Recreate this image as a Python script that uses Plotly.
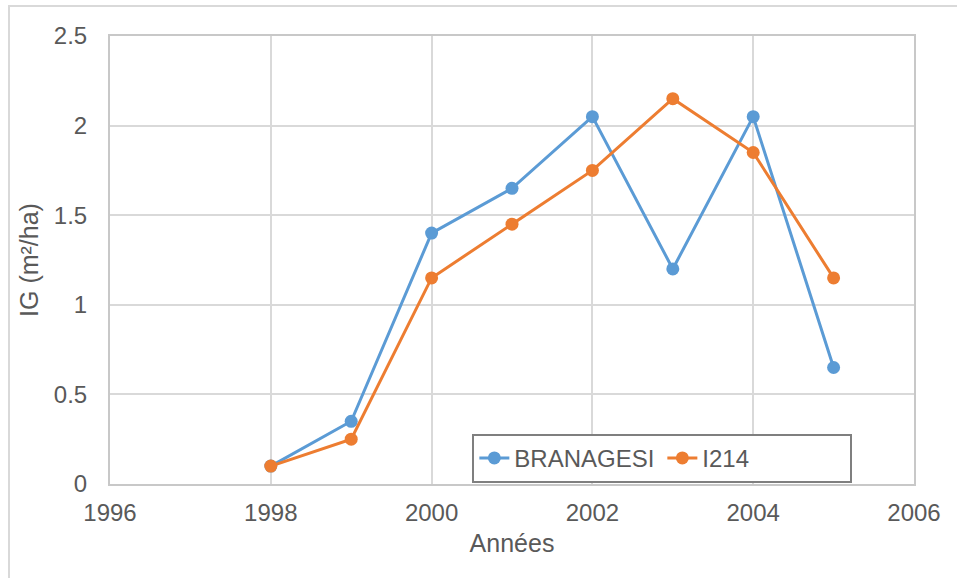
import plotly.graph_objects as go

# Growth data
annees = [1998, 1999, 2000, 2001, 2002, 2003, 2004, 2005]
branagesi = [0.10, 0.35, 1.40, 1.65, 2.05, 1.20, 2.05, 0.65]
i214 = [0.10, 0.25, 1.15, 1.45, 1.75, 2.15, 1.85, 1.15]

BLUE = "#5B9BD5"
ORANGE = "#ED7D31"
GREY_TXT = "#595959"
GRID = "#d9d9d9"

fig = go.Figure()

fig.add_trace(go.Scatter(
    x=annees, y=branagesi, name="BRANAGESI",
    mode="lines+markers",
    line=dict(color=BLUE, width=3),
    marker=dict(color=BLUE, size=13),
))

fig.add_trace(go.Scatter(
    x=annees, y=i214, name="I214",
    mode="lines+markers",
    line=dict(color=ORANGE, width=3),
    marker=dict(color=ORANGE, size=13),
))

fig.update_layout(
    width=957, height=578,
    margin=dict(l=110, r=43, t=36, b=94),
    plot_bgcolor="white",
    paper_bgcolor="white",
    font=dict(family="Liberation Sans, Arial, sans-serif", color=GREY_TXT, size=24),
    legend=dict(
        orientation="h",
        x=0.687, y=0.112, xanchor="center", yanchor="top",
        bgcolor="white",
        bordercolor="#7f7f7f", borderwidth=2,
        font=dict(size=24, color=GREY_TXT),
        entrywidth=143, entrywidthmode="pixels",
    ),
)

fig.update_xaxes(
    range=[1996, 2006], dtick=2, tick0=1996,
    showgrid=True, gridcolor=GRID, gridwidth=2,
    showline=True, linecolor="#c8c8c8", linewidth=2, mirror=True,
    zeroline=False, ticks="", ticklabelstandoff=6,
    tickfont=dict(size=24),
    title=dict(text="Années", font=dict(size=25, color=GREY_TXT), standoff=10),
)

fig.update_yaxes(
    range=[0, 2.5], dtick=0.5,
    showgrid=True, gridcolor=GRID, gridwidth=2,
    showline=True, linecolor="#c8c8c8", linewidth=2, mirror=True,
    zeroline=False, ticks="", ticklabelstandoff=16,
    tickfont=dict(size=24),
    title=dict(text="IG (m²/ha)", font=dict(size=25, color=GREY_TXT), standoff=8),
)

# light frame around the chart area, as in the source image
fig.add_shape(
    type="rect", xref="paper", yref="paper",
    x0=-0.1256, x1=1.08, y0=-0.25, y1=1.067,
    line=dict(color="#d9d9d9", width=2),
    layer="below",
)

fig.write_html("out.html", config={"displayModeBar": False},
               post_script="document.body.style.margin='0';")
